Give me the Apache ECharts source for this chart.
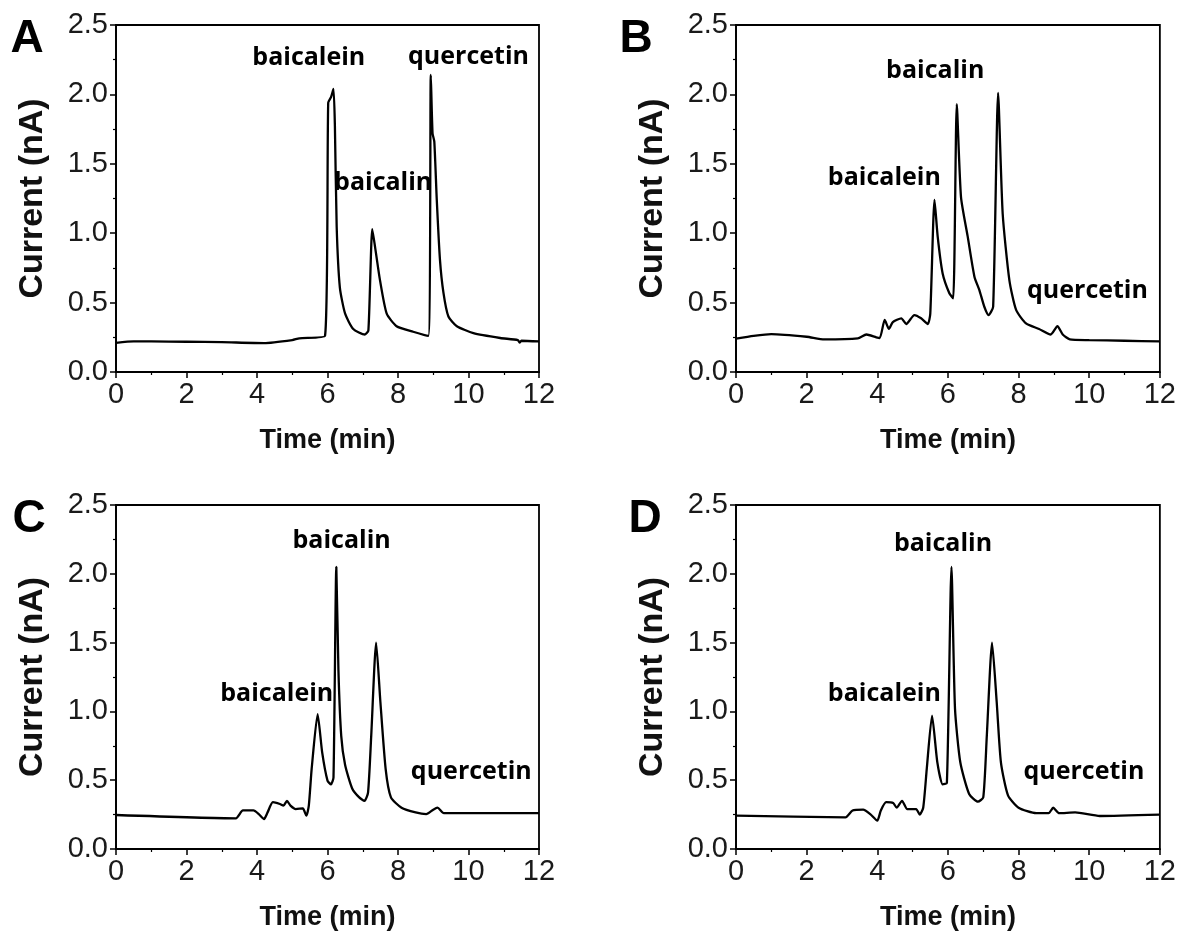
<!DOCTYPE html>
<html>
<head>
<meta charset="utf-8">
<script src="https://cdn.jsdelivr.net/npm/echarts@6/dist/echarts.min.js"></script>
<style>
  html, body { margin: 0; padding: 0; background: #fff; }
  #main { width: 1179px; height: 932px; }
</style>
</head>
<body>
<div id="main"></div>
<script>
// retention time (min) and current (nA)
var tA = [0, 0.5, 1, 2, 3, 4.2, 5, 5.2, 5.93, 6.02, 6.1, 6.17, 6.21, 6.26, 6.35, 6.5, 6.73, 7.06, 7.16, 7.27, 7.35, 7.49, 7.68, 7.96, 8.43, 8.86, 8.93, 8.98, 9.03, 9.1, 9.19, 9.29, 9.43, 9.67, 10.14, 10.9, 11.4, 11.45, 11.5, 12];
var vA = [0.21, 0.22, 0.22, 0.218, 0.215, 0.208, 0.23, 0.243, 0.26, 1.94, 1.98, 2.04, 1.77, 1.05, 0.61, 0.42, 0.31, 0.27, 0.30, 1.03, 0.90, 0.66, 0.42, 0.33, 0.29, 0.26, 2.14, 1.72, 1.66, 1.24, 0.81, 0.57, 0.40, 0.33, 0.28, 0.245, 0.23, 0.212, 0.225, 0.22];

var tB = [0, 0.5, 1, 2, 2.5, 3.45, 3.69, 3.97, 4.07, 4.21, 4.33, 4.44, 4.68, 4.82, 5.05, 5.24, 5.43, 5.5, 5.62, 5.71, 5.85, 6.04, 6.15, 6.25, 6.37, 6.56, 6.75, 6.89, 7.03, 7.15, 7.28, 7.42, 7.55, 7.74, 7.93, 8.21, 8.58, 8.91, 9.1, 9.25, 9.45, 10, 11, 12];
var vB = [0.24, 0.26, 0.273, 0.254, 0.235, 0.243, 0.27, 0.25, 0.245, 0.375, 0.31, 0.36, 0.387, 0.346, 0.41, 0.387, 0.346, 0.42, 1.24, 0.975, 0.71, 0.567, 0.53, 1.93, 1.26, 0.975, 0.687, 0.59, 0.47, 0.41, 0.47, 2.01, 1.14, 0.66, 0.447, 0.35, 0.31, 0.27, 0.33, 0.27, 0.235, 0.23, 0.225, 0.22];

var tC = [0, 3.4, 3.6, 3.9, 4.05, 4.2, 4.3, 4.45, 4.65, 4.75, 4.85, 4.95, 5.1, 5.3, 5.4, 5.47, 5.55, 5.72, 5.85, 6.0, 6.1, 6.17, 6.25, 6.31, 6.39, 6.5, 6.7, 6.9, 7.05, 7.15, 7.24, 7.38, 7.5, 7.65, 7.8, 8.1, 8.5, 8.8, 9.0, 9.12, 9.3, 10, 12];
var vC = [0.247, 0.223, 0.28, 0.28, 0.254, 0.218, 0.266, 0.34, 0.327, 0.315, 0.35, 0.315, 0.29, 0.295, 0.242, 0.315, 0.58, 0.98, 0.70, 0.497, 0.47, 0.52, 2.05, 1.30, 0.82, 0.61, 0.44, 0.375, 0.35, 0.41, 0.82, 1.5, 1.07, 0.58, 0.375, 0.30, 0.266, 0.254, 0.286, 0.30, 0.26, 0.26, 0.26];

var tD = [0, 3.1, 3.3, 3.6, 3.8, 4.0, 4.1, 4.25, 4.45, 4.55, 4.7, 4.85, 5.1, 5.2, 5.3, 5.4, 5.55, 5.7, 5.85, 5.97, 6.1, 6.2, 6.35, 6.6, 6.85, 7.0, 7.1, 7.25, 7.38, 7.5, 7.7, 8.0, 8.5, 8.85, 8.98, 9.15, 9.6, 10.3, 12];
var vD = [0.242, 0.23, 0.28, 0.286, 0.254, 0.206, 0.28, 0.34, 0.334, 0.30, 0.35, 0.29, 0.29, 0.25, 0.30, 0.58, 0.97, 0.63, 0.47, 0.48, 2.05, 1.02, 0.63, 0.40, 0.344, 0.375, 0.82, 1.5, 1.07, 0.63, 0.39, 0.30, 0.26, 0.26, 0.30, 0.26, 0.266, 0.24, 0.25];

// peak labels: [time, current, text]
var labelsA = [[5.47, 2.26, 'baicalein'], [7.58, 1.36, 'baicalin'], [10.0, 2.27, 'quercetin']];
var labelsB = [[5.64, 2.17, 'baicalin'], [4.20, 1.40, 'baicalein'], [9.95, 0.587, 'quercetin']];
var labelsC = [[6.40, 2.24, 'baicalin'], [4.56, 1.13, 'baicalein'], [10.08, 0.557, 'quercetin']];
var labelsD = [[5.86, 2.22, 'baicalin'], [4.20, 1.13, 'baicalein'], [9.85, 0.557, 'quercetin']];

var panelNames = ['A', 'B', 'C', 'D'];
var xTicks = [0, 2, 4, 6, 8, 10, 12];
var yTicks = ['0.0', '0.5', '1.0', '1.5', '2.0', '2.5'];

var chart = echarts.init(document.getElementById('main'));

function zip(t, v) {
  var out = [];
  for (var i = 0; i < t.length; i++) out.push([t[i], v[i]]);
  return out;
}

var grids = [
  {left: 116, top: 25, width: 423, height: 347},
  {left: 736, top: 25, width: 425, height: 347},
  {left: 116, top: 505, width: 423, height: 347},
  {left: 736, top: 505, width: 425, height: 347}
];
var letterPos = [[27, 39], [636, 39], [29, 519], [645, 519]];
var traces = [zip(tA, vA), zip(tB, vB), zip(tC, vC), zip(tD, vD)];
var labels = [labelsA, labelsB, labelsC, labelsD];

var xAxes = [], yAxes = [], series = [], graphics = [];
for (var i = 0; i < 4; i++) {
  grids[i].show = true;
  grids[i].borderColor = '#000';
  grids[i].borderWidth = 1.8;

  xAxes.push({
    gridIndex: i, type: 'value', min: 0, max: 12, interval: 2,
    name: 'Time (min)', nameLocation: 'middle', nameGap: 55,
    nameTextStyle: {fontFamily: 'Liberation Sans', fontWeight: 'bold', fontSize: 27, color: '#111'},
    axisLine: {onZero: false, lineStyle: {color: '#000', width: 1.8}},
    axisTick: {length: 6, lineStyle: {color: '#000', width: 1.5}},
    minorTick: {show: true, splitNumber: 2, length: 3, lineStyle: {color: '#000', width: 1.2}},
    splitLine: {show: false},
    axisLabel: {margin: 8, fontFamily: 'Liberation Sans', fontSize: 29, color: '#1a1a1a',
      formatter: function (v) { return xTicks.indexOf(v) >= 0 ? String(v) : ''; }}
  });
  yAxes.push({
    gridIndex: i, type: 'value', min: 0, max: 2.5, interval: 0.5,
    name: 'Current (nA)', nameLocation: 'middle', nameGap: 66,
    nameTextStyle: {fontFamily: 'Liberation Sans', fontWeight: 'bold', fontSize: 34, color: '#111'},
    axisLine: {lineStyle: {color: '#000', width: 1.8}},
    axisTick: {length: 6, lineStyle: {color: '#000', width: 1.5}},
    minorTick: {show: true, splitNumber: 2, length: 3, lineStyle: {color: '#000', width: 1.2}},
    splitLine: {show: false},
    axisLabel: {margin: 8, fontFamily: 'Liberation Sans', fontSize: 29, color: '#1a1a1a',
      formatter: function (v) { return yTicks[Math.round(v / 0.5)]; }}
  });
  series.push({
    type: 'line', xAxisIndex: i, yAxisIndex: i, data: traces[i],
    showSymbol: false, smooth: 0.2, silent: true,
    lineStyle: {color: '#000', width: 2.3}
  });
  series.push({
    type: 'scatter', xAxisIndex: i, yAxisIndex: i, data: labels[i],
    symbolSize: 0, silent: true, itemStyle: {opacity: 1},
    label: {show: true, position: 'inside', formatter: function (p) { return p.data[2]; },
      fontFamily: 'Open Sans', fontWeight: 'bold', fontSize: 25, color: '#000', opacity: 1}
  });
  graphics.push({
    type: 'text', x: letterPos[i][0], y: letterPos[i][1],
    style: {text: panelNames[i], fontFamily: 'Liberation Sans', fontWeight: 'bold', fontSize: 46,
      fill: '#000', textAlign: 'center', textVerticalAlign: 'middle'}
  });
}

chart.setOption({
  backgroundColor: '#fff',
  animation: false,
  grid: grids,
  xAxis: xAxes,
  yAxis: yAxes,
  series: series,
  graphic: graphics
});
</script>
</body>
</html>
